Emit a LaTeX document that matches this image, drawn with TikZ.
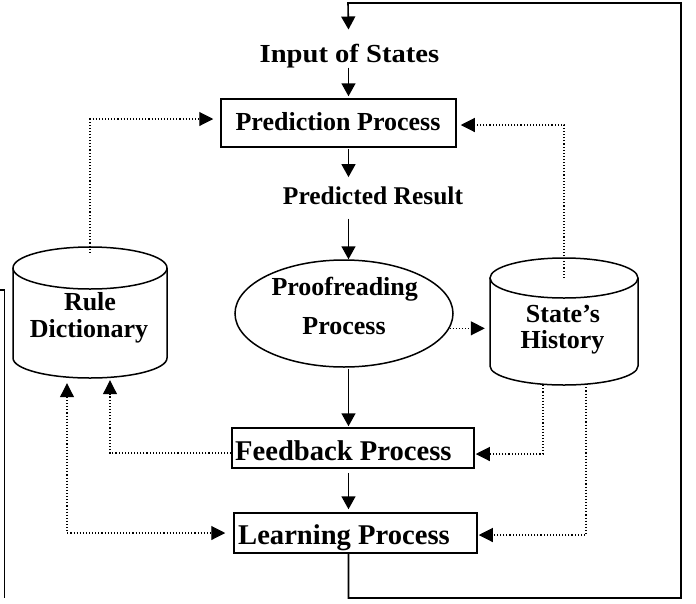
\documentclass[tikz,border=0pt]{standalone}
\usepackage{fontspec}
\setmainfont{Liberation Serif}
\newfontfamily\widefont[FakeStretch=1.1]{Liberation Serif}
\usetikzlibrary{arrows.meta,shapes.geometric}
\begin{document}
\begin{tikzpicture}[x=1pt,y=-1pt,
  lbl/.style={font=\fontsize{26}{28}\selectfont\bfseries, inner sep=0pt},
  biglbl/.style={font=\fontsize{28.6}{30}\selectfont\bfseries, inner sep=0pt},
  box/.style={draw, line width=1.5pt, inner sep=0pt},
  hole/.style={draw=none, inner sep=0pt},
  cyl/.style={line width=1.5pt},
  arr/.style={line width=1.6pt, -{Triangle[length=13pt,width=14pt]}},
  dotarr/.style={line width=1.1pt, dotted, -{Triangle[length=14pt,width=14pt]}},
  dotboth/.style={line width=1.1pt, dotted, {Triangle[length=14pt,width=14pt]}-{Triangle[length=14pt,width=14pt]}}
]
\useasboundingbox (0,0) rectangle (696,603);
\coordinate (spine) at (348.5,0);

% partial frame at left edge
\draw[line width=1.5pt] (0,290) -- (4.5,290) -- (4.5,598);

% texts and boxes
\node[lbl, anchor=base, font=\fontsize{26}{28}\selectfont\widefont\bfseries] (inp) at (349.5,62) {Input of States};

\node[box, minimum width=235pt, minimum height=48pt] (pp) at (338.5,123) {};
\node[lbl, anchor=base] (pptxt) at (338,130) {Prediction Process};

\node[lbl, anchor=base, font=\fontsize{25.5}{28}\selectfont\bfseries] (pr) at (373,204) {Predicted Result};

\node[ellipse, draw, line width=1.5pt, minimum width=218pt, minimum height=107pt, inner sep=0pt] (pf) at (344,313.5) {};
\node[lbl, anchor=base] (pftxt1) at (344.7,295) {Proofreading};
\node[lbl, anchor=base] (pftxt2) at (344,334) {Process};

\node[box, minimum width=242pt, minimum height=40pt] (fb) at (353,448) {};
\node[biglbl, anchor=base west] (fbtxt) at (235,460) {Feedback Process};

\node[box, minimum width=243pt, minimum height=40pt] (lp) at (355.5,533) {};
\node[biglbl, anchor=base west] (lptxt) at (238,544) {Learning Process};

% Rule Dictionary cylinder
\node[hole, minimum width=154pt, minimum height=131pt] (rd) at (90,312.5) {};
\draw[cyl] (13,268) -- (13,358) arc[start angle=180, end angle=360, x radius=77pt, y radius=20pt] -- (167,268);
\draw[cyl] (90,268) ellipse [x radius=77pt, y radius=21pt];
\node[lbl, anchor=base] (rdtxt1) at (90,310) {Rule};
\node[lbl, anchor=base] (rdtxt2) at (89,337) {Dictionary};

% State's History cylinder
\node[hole, minimum width=148pt, minimum height=127pt] (sh) at (564,321.5) {};
\draw[cyl] (490,278) -- (490,366) arc[start angle=180, end angle=360, x radius=74pt, y radius=19pt] -- (638,278);
\draw[cyl] (564,278) ellipse [x radius=74pt, y radius=20pt];
\node[lbl, anchor=base] (shtxt1) at (563,322) {State’s};
\node[lbl, anchor=base] (shtxt2) at (562.5,348) {History};

% solid flow
\draw[arr] (spine |- lp.south) |- (681,598) |- (348,3) -- ([yshift=14pt]spine |- inp.north);
\draw[arr, shorten >=2pt] (spine |- inp.south) -- (spine |- pp.north);
\draw[arr, shorten <=1pt, shorten >=9pt] (spine |- pp.south) -- (spine |- pr.north);
\draw[arr, shorten <=14pt] (spine |- pr.south) -- (spine |- pf.north);
\draw[arr, shorten <=1pt, shorten >=1pt] (spine |- pf.south) -- (spine |- fb.north);
\draw[arr, shorten <=4pt, shorten >=3pt] (spine |- fb.south) -- (spine |- lp.north);

% dotted flow
\draw[dotarr, shorten >=5pt] (pf.-8) -- (pf.-8 -| sh.west);
\draw[dotarr, shorten >=7pt] ([yshift=-6pt]rd.north) |- ([yshift=4pt]pp.west);
\draw[dotarr, shorten >=4pt] ([yshift=-20pt]sh.north) |- ([yshift=-2pt]pp.east);
\draw[dotarr, shorten >=1pt] ([xshift=-21pt]sh.south) |- ([yshift=-6pt]fb.east);
\draw[dotarr, shorten >=1pt] ([xshift=22pt,yshift=1pt]sh.south) |- ([yshift=-2pt]lp.east);
\draw[dotarr, shorten >=2pt] ([yshift=-5pt]fb.west) -| ([xshift=20pt]rd.south);
\draw[dotboth, shorten <=5pt, shorten >=8pt] ([xshift=-23pt]rd.south) |- (lp.west);
\end{tikzpicture}
\end{document}
